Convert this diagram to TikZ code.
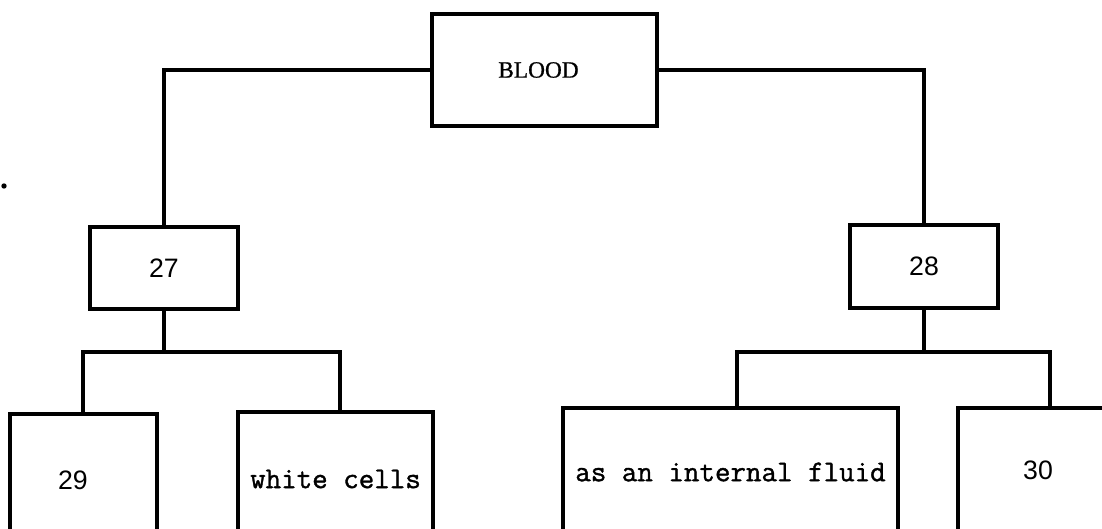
\documentclass[tikz,border=0pt]{standalone}
\usepackage{fontspec}
\newfontfamily\titlefont[FakeBold=0.8]{Liberation Serif}
\newfontfamily\numfont{Liberation Sans}
\newfontfamily\typefont[FakeBold=1.2]{Latin Modern Mono}
\begin{document}
\begin{tikzpicture}[x=0.75pt,y=-0.75pt,
  box/.style={draw,line width=2.3pt,inner sep=0pt,minimum width=#1},
  titlebox/.style={box=225*0.75pt,minimum height=112*0.75pt,font=\titlefont\fontsize{17.5}{20}\selectfont},
  numbox/.style={box=148*0.75pt,minimum height=82*0.75pt,font=\numfont\fontsize{20}{24}\selectfont},
  leafbox/.style={box=#1,font=\typefont\fontsize{22.6}{26}\selectfont},
  link/.style={line width=2.3pt,line cap=rect}]
\useasboundingbox (0,0) rectangle (1102,528);
\clip (0,0) rectangle (1102,528);

% top of the tree
\node[titlebox] (blood) at (544.5,70) {\hspace*{-9pt}BLOOD};

% second level
\node[numbox] (n27) at (164,268) {27};
\node[numbox,minimum height=83*0.75pt] (n28) at (924,266.5) {28};

% leaves (they run past the lower and right edges)
\node[leafbox=147*0.75pt,minimum height=132*0.75pt,font=\numfont\fontsize{20}{24}\selectfont] (n29) at (83.5,480) {\hspace*{-16pt}29};
\node[leafbox=195*0.75pt,minimum height=134*0.75pt] (wc) at (335.5,479) {white cells};
\node[leafbox=335*0.75pt,minimum height=128*0.75pt] (fluid) at (730.5,472) {as an internal fluid};
\node[leafbox=160*0.75pt,minimum height=124*0.75pt,font=\numfont\fontsize{20}{24}\selectfont] (n30) at (1038,470) {30};

% connectors
\draw[link] (blood.west) -| (n27.north);
\draw[link] (blood.east) -| (n28.north);

\coordinate (jl) at (164,352);
\coordinate (jr) at (924,352);
\draw[link] (n27.south) -- (jl);
\draw[link] ([xshift=-0.5*0.75pt]n29.north) |- (jl) -| ([xshift=4.5*0.75pt]wc.north);
\draw[link] (n28.south) -- (jr);
\draw[link] ([xshift=6.5*0.75pt]fluid.north) |- (jr) -| ([xshift=12*0.75pt]n30.north);

% stray speck near the left edge
\fill (4,186) circle (2pt);
\end{tikzpicture}
\end{document}
